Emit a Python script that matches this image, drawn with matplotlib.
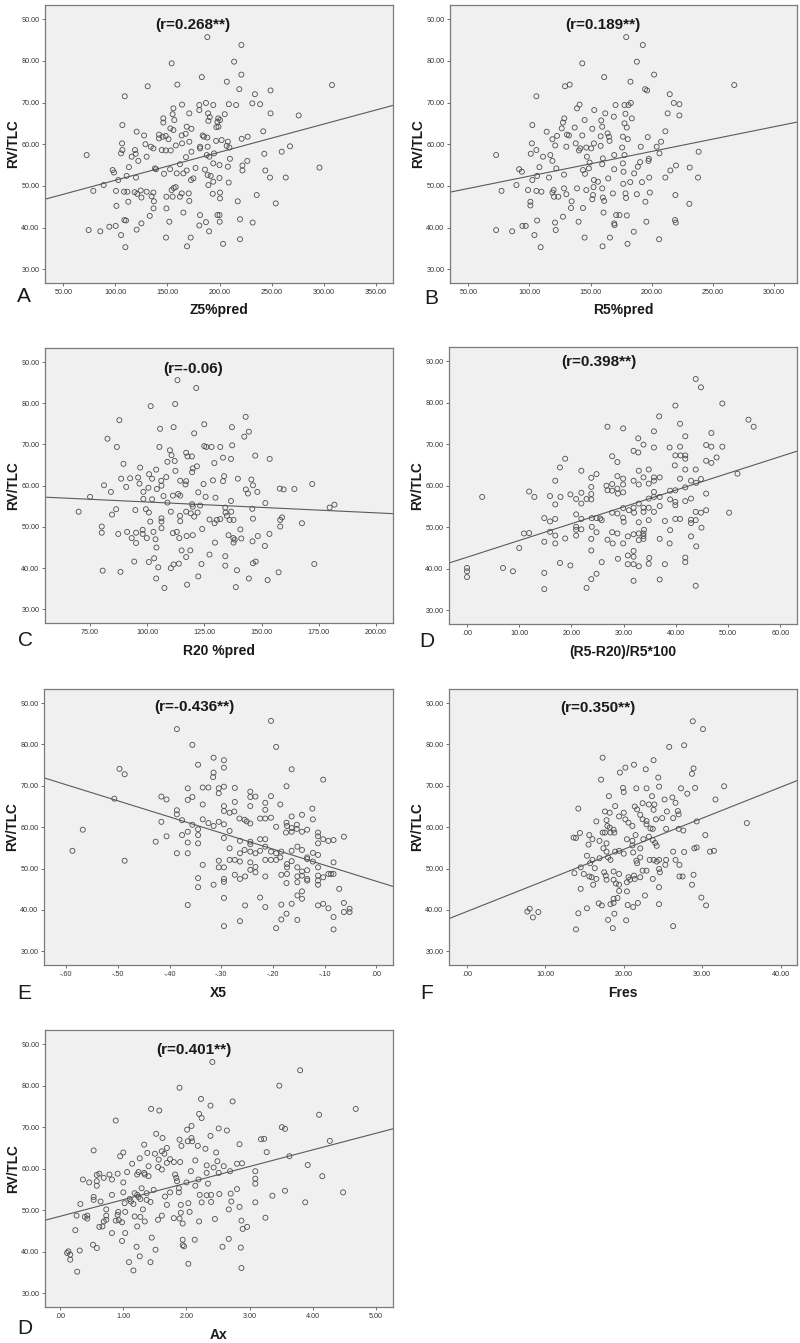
import numpy as np
import matplotlib
matplotlib.use("Agg")
import matplotlib.pyplot as plt
from matplotlib.ticker import FuncFormatter

plt.rcParams['font.family'] = ['Liberation Sans', 'DejaVu Sans']

# RV/TLC against Z5%pred
z5_pts = [
    (188.3, 85.7), (221, 83.8), (154, 79.4), (214, 79.8), (183, 76.1), (221, 76.7), (207, 75),
    (131, 73.9), (159.5, 74.3), (109, 71.5), (219, 73.2), (234, 72), (249, 72.9), (308, 74.2),
    (187, 69.9), (180.6, 69.4), (164, 69.5), (194, 69.4), (209, 69.6), (216, 69.4), (231.5, 69.8),
    (239, 69.6), (180.6, 68.2), (155.7, 68.6), (171, 67.4), (189, 67.4), (205, 67.2), (249, 67.4),
    (276, 66.9), (190.6, 66.5), (155, 67.2), (146, 66.2), (156.6, 65.8), (198.8, 66.2), (200.5, 65.8),
    (189.3, 65.6), (198, 65.4), (146, 65.2), (106.7, 64.6), (168.5, 64.2), (197, 64.1), (199, 64.2),
    (173, 63.7), (152.8, 63.8), (155.7, 63.4), (242, 63.1), (120.4, 63), (127.5, 62.1), (141.9, 62.3),
    (145.4, 61.8), (148.3, 62), (167.5, 62.5), (163.7, 62.1), (141.9, 61.4), (151, 61.2), (183.8, 62.1),
    (185, 61.8), (188.3, 61.6), (196.7, 60.8), (202, 61), (221.3, 61.3), (227, 61.8), (208, 60.6),
    (206.9, 59.6), (164, 60.2), (171, 60.6), (181.3, 59.4), (188.6, 59.4), (134, 59.4), (158, 59.7),
    (128.8, 60), (136.5, 59), (106.4, 60.2), (106.7, 58.6), (118.8, 58.6), (119.5, 57.7), (144.5, 58.6),
    (148.3, 58.5), (153.1, 58.5), (173, 58.2), (181.3, 59), (187.7, 57.4), (194.7, 57.8), (190.2, 57),
    (209.5, 59.2), (210, 56.5), (243, 57.7), (259.7, 58.2), (267.7, 59.5), (72.4, 57.4), (105.4, 57.8),
    (115.6, 57), (130, 57), (122, 56), (162, 55.2), (167.8, 56.9), (194, 55.4), (200, 55), (226.7, 56),
    (222, 54.9), (222, 53.7), (113, 54.5), (138, 54.2), (139, 54), (97.4, 53.8), (98.7, 53.2),
    (186, 53.9), (168.5, 53.7), (165.3, 53), (177, 54.3), (208, 54.6), (244, 53.7), (296, 54.4),
    (110.8, 52.4), (119.8, 52), (102.8, 51.4), (146.7, 52.9), (152.5, 54), (158.9, 53), (174.9, 51.8),
    (172.6, 51.4), (188.6, 52.6), (191.5, 52.4), (194, 51), (200, 51.9), (189.3, 50.2), (208.8, 50.8),
    (248.5, 52), (263.6, 52), (88.7, 50.2), (78.8, 48.8), (100.6, 48.8), (108.3, 48.6), (111.5, 48.6),
    (118.5, 48.5), (121, 48.1), (124.3, 48.9), (130, 48.6), (136.5, 48.4), (163.7, 48.2), (170.4, 48.2),
    (193.5, 48.1), (156, 49.5), (157.9, 49.7), (154, 49), (149, 47.4), (155, 47.4), (162, 47.4),
    (171, 46.4), (134.8, 47.5), (125, 47.2), (137, 46.3), (112.4, 46.2), (101, 45.2), (200.5, 47),
    (200.5, 48.4), (217.5, 46.3), (235.7, 47.8), (254, 45.8), (136.6, 44.6), (149, 44.6), (165.3, 43.6),
    (181.3, 43), (198, 43), (200, 43), (133, 42.8), (108.6, 41.8), (110.2, 41.7), (125, 41),
    (151.8, 41.4), (187, 41.3), (200.2, 41.4), (219.7, 42), (231.8, 41.2), (180.6, 40.5), (74.3, 39.4),
    (85.5, 39.1), (94.2, 40.2), (100.3, 40.4), (120.4, 39.5), (190, 39.1), (105.4, 38.2), (148.6, 37.6),
    (172.3, 37.6), (219.7, 37.2), (109.6, 35.3), (168.8, 35.5), (203.4, 36.1),
]

# RV/TLC against R5%pred
r5_pts = [
    (179.1, 85.7), (192.7, 83.8), (143.2, 79.4), (187.8, 79.8), (161.1, 76.1), (201.9, 76.7),
    (182.6, 75), (129.1, 73.9), (132.9, 74.3), (105.7, 71.5), (194.6, 73.2), (196.2, 72.9),
    (214.7, 72), (267.4, 74.2), (170.4, 69.4), (141, 69.5), (181, 69.4), (182.9, 69.9), (218, 69.9),
    (222.6, 69.6), (177.7, 69.4), (138.9, 68.6), (153, 68.2), (162, 67.4), (178.5, 67.3), (213, 67.4),
    (222.6, 66.9), (183.7, 66.2), (169, 66.6), (128.5, 66.2), (145.1, 65.8), (127.4, 65.2),
    (158.7, 65.7), (177.7, 65), (102.4, 64.6), (137, 64), (151.4, 63.7), (159.5, 64.2), (179.6, 64),
    (126.4, 63.8), (211.1, 63.1), (114.1, 63), (130.7, 62.3), (132.3, 62.1), (122.6, 62), (143.2, 62.1),
    (163.9, 62.6), (165, 61.8), (158.2, 61.9), (176.4, 61.8), (180.4, 61.2), (196.7, 61.7),
    (137.8, 60.2), (118.8, 61.2), (102, 60.2), (121.1, 59.7), (130.2, 59.4), (141.6, 59), (146.5, 59.2),
    (152.7, 60.2), (158.2, 59.6), (165.5, 60.8), (175.8, 59.2), (191, 59.4), (204, 59.4), (207.6, 60.6),
    (105.7, 58.6), (140.5, 58.5), (150.5, 59), (169.3, 57.4), (177.7, 57.4), (206.3, 57.8),
    (238.3, 58.2), (72.8, 57.4), (101.1, 57.7), (111.1, 57), (117.1, 57.4), (118.8, 56), (147, 57),
    (160, 56.6), (197.6, 56.5), (197.3, 56), (159.5, 55.2), (176.4, 55.4), (190.5, 55.7), (188.6, 54.6),
    (219.8, 54.9), (231, 54.4), (108.2, 54.5), (122, 54.2), (91.6, 54), (93.8, 53.4), (143.8, 53.8),
    (148.6, 54.2), (169.3, 54), (176.9, 53.4), (185.6, 53), (215.2, 53.7), (106.3, 52.4), (116, 52),
    (102.4, 51.4), (128.3, 52.7), (145.4, 52.9), (152.7, 51.4), (156, 51), (164.4, 51.8), (176.7, 50.5),
    (182.4, 50.9), (192, 50.9), (197.9, 52), (211.1, 52), (237.8, 52), (89.4, 50.2), (77.2, 48.8),
    (98.9, 49), (105.7, 48.8), (109.8, 48.6), (118.8, 48.4), (119.8, 49), (128.3, 49.4), (138.9, 49.4),
    (152.4, 49.7), (159.5, 49.4), (146.5, 49), (120.1, 47.4), (123.6, 47.4), (130.2, 48), (152, 47.8),
    (160, 47.2), (168.2, 48.2), (178.5, 48.2), (179, 47.1), (187.8, 48), (198.4, 48.4), (219.3, 47.8),
    (134.5, 46.3), (100.8, 46.2), (151.4, 46.8), (161.1, 46.4), (194.8, 46.2), (230.7, 45.7),
    (100.8, 45.3), (134, 44.7), (143.8, 44.7), (160.6, 43.6), (170.9, 43), (173.6, 43), (179.6, 42.9),
    (127.4, 42.6), (106.3, 41.7), (120.9, 41.2), (140.2, 41.4), (169.3, 41), (195.6, 41.4), (219, 41.8),
    (219.6, 41.2), (185.3, 39), (169.6, 40.6), (72.8, 39.4), (85.9, 39.1), (94.3, 40.4), (97, 40.4),
    (121.5, 39.4), (104.1, 38.2), (145.1, 37.6), (165.8, 37.6), (206, 37.2), (109.2, 35.3),
    (159.8, 35.5), (180.2, 36.1), (149.2, 55.6),
]

# RV/TLC against R20 %pred
r20_pts = [
    (113.2, 85.6), (121.4, 83.7), (101.5, 79.3), (112.2, 79.8), (143, 76.7), (87.8, 75.9), (124.9, 74.9),
    (105.6, 73.8), (111.5, 74.2), (137, 74.2), (120.5, 72.7), (142.4, 71.9), (144.4, 73.1), (82.6, 71.4),
    (86.7, 69.4), (105.3, 69.4), (124.9, 69.6), (125.8, 69.4), (128.1, 69.4), (131.9, 69.4), (137.1, 69.8),
    (109.9, 68.6), (110.6, 67.4), (117, 68), (117.6, 67.1), (119.5, 67.1), (133.1, 66.8), (136.6, 66.5),
    (147.2, 67.3), (153.5, 66.5), (112, 66), (108.8, 65.8), (129.3, 65.5), (89.6, 65.3), (121.7, 64.7),
    (96.9, 64.4), (103.9, 63.9), (112.3, 63.6), (119.9, 64.2), (119.6, 63.3), (133.6, 62.3), (100.8, 62.8),
    (88.6, 61.7), (92.5, 61.8), (96, 62), (102.1, 61.7), (108.3, 62.1), (106.1, 61.2), (114.4, 61.2),
    (117, 61.1), (116.7, 60.3), (124.6, 60.4), (128.7, 61.3), (133.1, 61.1), (139.6, 61.7), (145.5, 61.5),
    (146.2, 60.1), (81.1, 60.1), (90.8, 59.7), (96.6, 60.5), (100.5, 59.5), (104.2, 59.2), (106.2, 60),
    (84.1, 58.5), (98.3, 58.5), (122.3, 58.4), (125.5, 57.3), (129.8, 57.1), (143.1, 59.1), (144, 58.1),
    (148.1, 58.5), (157.9, 59.3), (159.6, 59.1), (164.3, 59.2), (172.1, 60.4), (75, 57.3), (98.3, 56.8),
    (102.1, 56.7), (107.1, 57.5), (111.2, 57.6), (114.4, 57.6), (108.8, 55.9), (113.5, 58), (123.1, 55.2),
    (119.9, 54.9), (119.6, 55.5), (136.6, 56.3), (151.6, 55.8), (179.7, 54.7), (181.8, 55.4), (70, 53.7),
    (84.6, 53), (86.4, 54.3), (94.8, 54.1), (99.4, 54.3), (100.7, 53.5), (110.3, 53.7), (114.3, 52.7),
    (117, 53.7), (119, 53.3), (122, 53.5), (120.5, 52.5), (106.2, 52.1), (106.2, 51.3), (114.4, 51.4),
    (127.2, 51.8), (130.4, 51.7), (131.9, 51.9), (134.2, 53.5), (134.8, 52.7), (136.7, 53.7), (136, 51.7),
    (137.7, 51.7), (134.1, 54.7), (146.2, 52), (145.9, 54.4), (158.1, 51.7), (158.9, 52.3), (167.6, 50.9),
    (101.3, 51.3), (80.1, 50.1), (80.1, 48.6), (87.3, 48.3), (91.2, 48.8), (95.1, 48.6), (98, 49.3),
    (98, 48.3), (102.7, 48.8), (106.2, 49.7), (111.2, 48.5), (112.9, 48.8), (117.2, 47.8), (119.9, 48),
    (114, 47.3), (93.2, 47.3), (99.8, 47.3), (95.1, 46.1), (103.6, 47), (124, 49.5), (129.4, 50.9),
    (135.5, 48), (137.6, 47.3), (138.2, 46.9), (141.1, 47.2), (137.7, 46.2), (140.7, 49.4), (129.6, 46.2),
    (148.3, 47.8), (153.4, 48.3), (146, 46.5), (158.1, 50.1), (151.4, 45.4), (104, 45), (115, 44.3),
    (118.8, 44.3), (117, 42.7), (127.2, 43.3), (134.1, 42.9), (94.3, 41.6), (103, 42.4), (100.7, 41.5),
    (113.8, 41.1), (111.5, 40.9), (123.7, 41), (134.1, 40.6), (146.2, 41.2), (147.4, 41.6), (173, 41),
    (80.5, 39.4), (88.3, 39.1), (104.8, 40.2), (110.3, 40), (139.2, 39.5), (157.4, 39), (103.9, 37.5),
    (122.3, 38), (144.4, 37.5), (152.6, 37.1), (107.5, 35.2), (117.4, 36), (138.7, 35.4),
]

# RV/TLC against (R5-R20)/R5*100
frd_pts = [
    (43.8, 85.7), (44.8, 83.7), (39.9, 79.3), (48.9, 79.8), (36.8, 76.7), (53.9, 75.9), (54.9, 74.2),
    (40.8, 74.9), (26.9, 74.2), (29.9, 73.8), (35.8, 73.1), (41.8, 71.9), (46.8, 72.7), (32.8, 71.4),
    (33.8, 69.9), (35.8, 69.2), (38.8, 69.2), (40.8, 69.4), (45.8, 69.8), (46.8, 69.4), (48.9, 69.4),
    (31.9, 68.4), (32.8, 68), (39.9, 67.3), (40.9, 67.3), (41.8, 67.3), (41.8, 66.5), (27.8, 67.1),
    (18.8, 66.5), (47.8, 66.8), (45.8, 66), (46.8, 65.5), (28.8, 65.7), (39.8, 64.9), (17.8, 64.4),
    (34.8, 63.9), (41.8, 63.9), (43.8, 63.9), (32.9, 63.6), (21.9, 63.6), (24.8, 62.8), (28.8, 62.3),
    (33.8, 62), (35.8, 62), (36.9, 62), (40.8, 61.7), (31.9, 61.2), (42.9, 61.2), (44.8, 61.6),
    (51.8, 62.9), (16.9, 61.2), (35.8, 61.2), (29.9, 61.7), (29.9, 60.3), (23.8, 61.9), (23.8, 59.7),
    (26.7, 60), (27.8, 60.4), (28.8, 59.3), (32.9, 60.3), (34.8, 60.5), (41.8, 59.6), (43.9, 60.7),
    (45.8, 58.1), (11.9, 58.6), (12.9, 57.3), (2.9, 57.3), (15.9, 57.5), (17.9, 57.3), (19.8, 57.9),
    (21.9, 58.3), (23.8, 58), (27.8, 58.8), (26.9, 58.9), (28.9, 58.1), (29.9, 58.4), (35.8, 58.5),
    (35.8, 57.3), (38.9, 58.8), (39.9, 58.9), (36.9, 57.3), (34.8, 56.9), (38.9, 56.7), (39.9, 56.1),
    (41.8, 56.3), (42.9, 56.9), (16.9, 55.5), (20.9, 56.8), (21.9, 55.7), (22.9, 56.8), (23.8, 56.7),
    (32.9, 55.7), (31.9, 54.7), (29.9, 54.6), (31, 54.1), (33.8, 54.7), (33.8, 53.7), (34.8, 54.7),
    (35.8, 53.7), (36.9, 55.1), (39.9, 55.3), (43.8, 53.7), (44.8, 53.5), (45.8, 54.1), (50.2, 53.5),
    (20.9, 53.1), (27.8, 53.5), (28.8, 53.3), (32, 53.5), (25.5, 52.1), (14.8, 52.2), (15.9, 51.4),
    (16.9, 52), (21.9, 52), (23.9, 52.2), (24.8, 52.2), (25.8, 51.7), (29.9, 52.3), (30, 51.3),
    (32.9, 51.2), (34.8, 51.7), (37.9, 51.5), (39.9, 52), (40.8, 52), (42.9, 51.8), (42.9, 51),
    (43.8, 51.7), (44.9, 49.9), (20.9, 50.1), (20.9, 49.4), (21.9, 49.5), (23.9, 50.1), (38.9, 49.3),
    (10.9, 48.5), (11.9, 48.6), (15.9, 48.9), (24.8, 48.8), (27.8, 48.8), (28.8, 48.5), (32.9, 48.5),
    (31.9, 48.3), (33.8, 48.5), (33.8, 47.9), (33.9, 49.4), (16.9, 48), (20.9, 48), (30.8, 47.8),
    (42.9, 47.8), (18.8, 47.3), (23.8, 47.2), (26.9, 47), (32.9, 46.9), (33.8, 47.2), (36.9, 47.2),
    (14.8, 46.5), (16.9, 46.1), (27.9, 46.1), (29.9, 46.1), (38.8, 46.1), (10, 45), (43.9, 45.4),
    (23.8, 44.4), (31.9, 44.3), (31.9, 42.9), (30.8, 43.2), (28.9, 42.4), (34.9, 42.6), (41.8, 42.7),
    (41.8, 41.6), (17.8, 41.4), (25.8, 41.6), (30.8, 41.1), (31.9, 41.1), (32.9, 40.6), (34.8, 41.2),
    (37.9, 41.1), (19.8, 40.8), (6.9, 40.2), (8.8, 39.4), (0, 40.2), (0, 39.4), (0, 38), (14.8, 39),
    (24.8, 38.8), (23.8, 37.5), (36.9, 37.4), (31.9, 37.1), (14.8, 35.1), (22.9, 35.4), (43.8, 35.9),
]

# RV/TLC against X5
x5_pts = [
    (-0.204, 85.7), (-0.386, 83.7), (-0.194, 79.4), (-0.356, 79.9), (-0.315, 76.8), (-0.295, 76.2),
    (-0.345, 75.1), (-0.497, 74.1), (-0.487, 72.8), (-0.295, 74.4), (-0.164, 74), (-0.315, 73.2),
    (-0.316, 72.1), (-0.103, 71.5), (-0.365, 69.4), (-0.336, 69.6), (-0.325, 69.6), (-0.305, 69.4),
    (-0.305, 68.2), (-0.295, 69.8), (-0.274, 69.5), (-0.174, 69.9), (-0.244, 68.6), (-0.507, 66.9),
    (-0.416, 67.4), (-0.406, 66.7), (-0.365, 66.6), (-0.356, 67.3), (-0.244, 67.3), (-0.234, 67.4),
    (-0.204, 67.5), (-0.274, 66.1), (-0.215, 65.9), (-0.186, 65.5), (-0.336, 65.5), (-0.244, 65.1),
    (-0.295, 65.1), (-0.124, 64.5), (-0.164, 62.6), (-0.144, 63), (-0.386, 64.1), (-0.386, 63.1),
    (-0.295, 63.9), (-0.284, 63.5), (-0.275, 63.8), (-0.215, 64.2), (-0.225, 62.1), (-0.215, 62.1),
    (-0.204, 62.3), (-0.123, 61.9), (-0.376, 61.7), (-0.416, 61.3), (-0.336, 61.9), (-0.325, 61),
    (-0.315, 60.3), (-0.305, 61.3), (-0.295, 60.7), (-0.265, 62.1), (-0.255, 61.8), (-0.251, 61.4),
    (-0.244, 60.9), (-0.356, 60.6), (-0.174, 61.1), (-0.173, 60.3), (-0.194, 60.1), (-0.164, 59.8),
    (-0.154, 59.6), (-0.154, 60.6), (-0.164, 58.9), (-0.175, 58.7), (-0.144, 58.9), (-0.134, 59.4),
    (-0.113, 58.7), (-0.113, 57.8), (-0.103, 57.1), (-0.093, 56.7), (-0.083, 56.9), (-0.063, 57.7),
    (-0.113, 56.1), (-0.365, 58.9), (-0.345, 58.1), (-0.345, 59.5), (-0.406, 57.8), (-0.376, 58.1),
    (-0.427, 56.5), (-0.365, 56.3), (-0.345, 56.1), (-0.295, 57.4), (-0.284, 59.1), (-0.264, 56.7),
    (-0.244, 56.5), (-0.244, 55.9), (-0.225, 57.1), (-0.215, 57.1), (-0.215, 55.3), (-0.184, 54.1),
    (-0.164, 54.3), (-0.153, 55.3), (-0.144, 54.5), (-0.123, 53.8), (-0.113, 53.3), (-0.386, 53.7),
    (-0.365, 53.7), (-0.284, 54.9), (-0.264, 53.7), (-0.255, 54.5), (-0.244, 54.1), (-0.234, 53.7),
    (-0.225, 54.3), (-0.204, 54.1), (-0.194, 53.7), (-0.194, 52.1), (-0.215, 52.1), (-0.204, 52.1),
    (-0.244, 51.5), (-0.234, 50.4), (-0.284, 52.1), (-0.274, 52.1), (-0.264, 51.7), (-0.305, 51.9),
    (-0.336, 50.9), (-0.305, 50.3), (-0.295, 50.3), (-0.134, 52.7), (-0.134, 52.3), (-0.123, 51.7),
    (-0.113, 50.3), (-0.083, 51.5), (-0.186, 52.7), (-0.164, 51.8), (-0.173, 51.1), (-0.173, 50.3),
    (-0.173, 48.7), (-0.153, 50.3), (-0.144, 49.3), (-0.134, 49.6), (-0.153, 48.1), (-0.144, 48.3),
    (-0.134, 47.5), (-0.113, 48.3), (-0.103, 47.9), (-0.093, 48.7), (-0.088, 48.7), (-0.083, 48.7),
    (-0.134, 47.1), (-0.113, 47.1), (-0.113, 46.1), (-0.184, 48.5), (-0.174, 46.5), (-0.153, 46.7),
    (-0.274, 48.5), (-0.264, 47.5), (-0.254, 48.1), (-0.234, 49.1), (-0.244, 49.7), (-0.215, 48.1),
    (-0.295, 47.5), (-0.295, 46.8), (-0.315, 46.1), (-0.345, 47.7), (-0.345, 45.5), (-0.072, 45.1),
    (-0.153, 43.5), (-0.144, 44.5), (-0.144, 42.7), (-0.225, 43), (-0.295, 42.9), (-0.365, 41.2),
    (-0.254, 41.1), (-0.215, 40.7), (-0.184, 41.3), (-0.164, 41.5), (-0.113, 41.1), (-0.103, 41.5),
    (-0.093, 40.4), (-0.063, 41.7), (-0.063, 39.5), (-0.052, 40.3), (-0.052, 39.5), (-0.083, 38.3),
    (-0.174, 39.1), (-0.184, 37.7), (-0.153, 37.6), (-0.264, 37.3), (-0.295, 36.1), (-0.194, 35.6),
    (-0.083, 35.3), (-0.588, 54.3), (-0.568, 59.4), (-0.487, 51.9),
]

# RV/TLC against Fres
fres_pts = [
    (28.8, 85.6), (30.1, 83.7), (25.8, 79.4), (27.7, 79.8), (17.3, 76.8), (23.8, 76.2), (21.3, 75.1),
    (20.2, 74.4), (19.5, 73.2), (22.8, 74), (28.9, 74.2), (28.7, 72.9), (24.4, 72), (17.1, 71.5),
    (32.8, 69.9), (19.9, 69.5), (21.6, 69.4), (22.9, 69.4), (24.5, 69.8), (27.3, 69.4), (29.1, 69.5),
    (20, 68.5), (28.1, 68.1), (18.1, 67.5), (23.6, 67.5), (25.2, 66.7), (26.2, 67.2), (31.7, 66.7),
    (26.6, 65.9), (22.4, 65.8), (23.2, 65.5), (23.9, 65.5), (21.4, 65), (18.9, 65.1), (14.2, 64.5),
    (21.7, 64.3), (23.8, 64.2), (26.9, 63.9), (27, 63.1), (17.6, 63.8), (18.2, 63.5), (20, 63.5),
    (19.4, 62.6), (22.1, 63), (22.4, 61.9), (22.9, 61.5), (24.1, 61.9), (25.5, 63.8), (24.9, 62.2),
    (26.3, 62.2), (16.5, 61.4), (17.8, 61.7), (20.2, 61.9), (20.6, 61.1), (29.3, 61.4), (35.7, 61),
    (17.9, 60.3), (18.2, 59.9), (18.7, 59.4), (21.1, 60.3), (22.9, 60.7), (23.4, 59.7), (23.7, 59.6),
    (25.4, 59.6), (27, 59.6), (27.6, 59.2), (14.4, 58.6), (15.6, 58.1), (17.3, 58.7), (17.6, 58.7),
    (18.3, 58.7), (18.8, 58.7), (16.9, 56.7), (13.6, 57.5), (13.9, 57.4), (16, 57.1), (17.8, 56.1),
    (21.1, 56.7), (20.4, 57.1), (21.5, 58.1), (22.5, 57.1), (23.2, 57.7), (23.7, 56.9), (24, 56.2),
    (24.2, 55.5), (15.5, 55.8), (17.4, 54.9), (22.1, 54.9), (21.1, 55.6), (19.4, 54.3), (18.9, 54.1),
    (20, 53.6), (21.2, 53.9), (17.8, 54.1), (15.3, 53.1), (16, 52.1), (16.9, 52.5), (18, 52.7),
    (18.3, 52.1), (22.1, 52.7), (23.3, 52.1), (23.8, 52.1), (24.5, 52.1), (24.2, 51.7), (25.4, 52.1),
    (25.3, 50.9), (26.3, 54.1), (27.7, 54), (29, 54.9), (29.3, 55.1), (31, 54.1), (31.5, 54.3),
    (30.4, 58.1), (26.6, 52.1), (27.1, 50.9), (21.6, 51.9), (21.7, 51.3), (15.7, 51.3), (16.3, 50.1),
    (14.5, 50.3), (13.7, 48.9), (14.9, 48.7), (17.5, 49.1), (17.7, 48.3), (18.7, 49.3), (19.4, 48.7),
    (20.6, 47.9), (21.3, 48.3), (21.4, 47.5), (22.4, 49.5), (22.9, 49.5), (22.1, 47.9), (24.5, 49.9),
    (24.6, 49.1), (27.1, 48.1), (27.5, 48.1), (28.9, 48.5), (15.6, 48.1), (15.9, 47.9), (16.5, 47.5),
    (16.1, 46.1), (17.8, 47.3), (18.7, 47.3), (19, 46.4), (19.4, 46.1), (20.4, 46.7), (20.8, 47.3),
    (23.7, 47.5), (28.7, 46.1), (24.5, 45.5), (14.5, 45.1), (19.4, 44.6), (20.4, 44.5), (19.2, 42.9),
    (18.7, 42.7), (22.7, 43.5), (29.9, 43), (16.8, 41.6), (17.2, 41.1), (18.3, 41.4), (18.7, 41.7),
    (20.5, 41.2), (21.2, 40.7), (21.8, 41.7), (24.5, 41.4), (30.5, 41.1), (15.3, 40.4), (7.7, 39.6),
    (8, 40.3), (9.1, 39.5), (8.4, 38.2), (14.2, 39.2), (18.8, 39.1), (18, 37.6), (20.3, 37.5),
    (13.9, 35.3), (18.6, 35.6), (26.3, 36.1),
]

# RV/TLC against Ax
ax_pts = [
    (2.41, 85.7), (3.8, 83.7), (1.89, 79.5), (3.47, 80), (2.23, 76.8), (2.73, 76.2), (2.38, 75.2),
    (1.44, 74.4), (1.57, 74), (4.68, 74.4), (2.2, 73.2), (2.24, 72.2), (4.1, 73), (0.88, 71.6),
    (2.08, 70.3), (2.01, 69.4), (2.51, 69.7), (2.64, 69.2), (3.51, 70), (3.56, 69.6), (1.52, 68.4),
    (2.38, 67.9), (1.62, 67.4), (2.08, 67.4), (3.18, 67.1), (3.23, 67.2), (4.27, 66.7), (1.89, 67),
    (2.02, 66.6), (2.09, 66.6), (1.33, 65.8), (1.92, 65.5), (2.18, 65.5), (2.84, 65.9), (2.3, 64.8),
    (1.69, 65), (1.61, 64.2), (0.53, 64.4), (1, 63.9), (1.38, 63.8), (1.5, 63.6), (1.65, 63.6),
    (2.47, 63.9), (3.27, 64), (3.63, 63), (0.95, 63), (1.26, 62.5), (1.56, 62.2), (1.74, 62.3),
    (2.14, 62), (2.49, 61.8), (1.69, 61.4), (1.8, 61.6), (1.9, 61.6), (1.14, 61.2), (2.8, 61.2),
    (2.88, 61.3), (2.32, 60.8), (2.43, 60.3), (2.59, 60.6), (3.92, 60.9), (3.09, 59.4), (2.07, 59.4),
    (1.55, 60.4), (1.61, 59.8), (1.4, 60.6), (1.33, 59), (1.24, 59.2), (1.22, 58.6), (1.06, 59.2),
    (0.91, 58.8), (0.62, 58.8), (0.58, 58.5), (0.78, 58.6), (1.34, 58.6), (1.4, 58.2), (1.82, 58.6),
    (2.51, 59), (2.69, 59.4), (4.15, 58.2), (2.32, 59), (1.84, 57.8), (1.85, 57), (0.36, 57.4),
    (0.69, 57.8), (0.82, 57.4), (0.58, 57), (0.46, 56.7), (1, 56.7), (0.58, 55.9), (2, 56.7),
    (2.14, 55.9), (2.34, 56.4), (3.09, 57.6), (3.09, 56.4), (2.19, 57.4), (2.8, 55.1), (3.56, 54.7),
    (4.48, 54.3), (1.48, 54.9), (1.18, 54.1), (1, 54.3), (0.82, 53.7), (1.37, 54.1), (1.29, 55.3),
    (1.88, 55.3), (1.88, 54.3), (1.74, 54.3), (1.66, 53.3), (1.22, 53.7), (1.24, 53.2), (1.27, 52.7),
    (1.1, 52.7), (1.12, 52.1), (1.16, 51.5), (1.02, 51.7), (1.37, 52.5), (1.43, 52), (0.64, 52.1),
    (0.53, 53.2), (0.53, 52.5), (0.32, 51.5), (2.21, 53.7), (2.32, 53.6), (2.39, 53.7), (2.52, 53.9),
    (2.7, 54), (3.36, 53.5), (2.24, 51.9), (2.39, 52), (2.71, 52.1), (3.09, 51.9), (3.88, 51.9),
    (1.69, 51.3), (1.91, 51.3), (2.03, 51.7), (1.31, 50.2), (0.73, 50.2), (2.67, 50.2), (1.91, 49.4),
    (2.05, 49.6), (2.84, 50.8), (0.26, 48.7), (0.43, 48.7), (0.73, 48.7), (0.91, 48.9), (1.03, 49.6),
    (0.92, 49.6), (1.18, 48.5), (1.27, 48.4), (0.73, 47.7), (0.39, 48.4), (0.43, 48), (0.69, 47.3),
    (0.88, 47.5), (0.93, 47.6), (0.98, 47.1), (1.34, 47.3), (1.55, 47.7), (1.61, 48.7), (1.8, 48.1),
    (1.89, 48), (2.2, 47.3), (2.45, 47.9), (2.87, 47.5), (3.25, 48.2), (1.94, 46.8), (0.62, 46),
    (0.67, 46.1), (1.22, 46.1), (2.89, 45.5), (2.96, 46), (0.24, 45.2), (0.82, 44.5), (1.03, 44.5),
    (0.98, 42.6), (1.45, 43.4), (1.94, 42.9), (2.13, 42.9), (2.67, 43.1), (1.94, 41.6), (1.96, 41.3),
    (2.57, 41.2), (2.86, 41), (0.52, 41.7), (0.58, 40.9), (1.21, 41.2), (1.51, 40.5), (0.11, 39.7),
    (0.13, 40.1), (0.16, 39.3), (0.16, 38.1), (0.31, 40.3), (1.26, 38.9), (1.43, 37.5), (1.09, 37.5),
    (2.03, 37.1), (0.27, 35.2), (1.16, 35.5), (2.87, 36.1),
]

panels = [
    # points, r text, x label, letter, xlim, xticks
    (z5_pts, "(r=0.268**)", "Z5%pred", "A", (32.4, 366.6), np.arange(50, 351, 50)),
    (r5_pts, "(r=0.189**)", "R5%pred", "B", (35.1, 318.7), np.arange(50, 301, 50)),
    (r20_pts, "(r=-0.06)", "R20 %pred", "C", (55.3, 207.4), np.arange(75, 201, 25)),
    (frd_pts, "(r=0.398**)", "(R5-R20)/R5*100", "D", (-3.45, 63.2), np.arange(0, 61, 10)),
    (x5_pts, "(r=-0.436**)", "X5", "E", (-0.643, 0.032), np.round(np.arange(-0.6, 0.01, 0.1), 2)),
    (fres_pts, "(r=0.350**)", "Fres", "F", (-2.3, 42.1), np.arange(0, 41, 10)),
    (ax_pts, "(r=0.401**)", "Ax", "D", (-0.24, 5.27), np.arange(0, 6, 1)),
]

# axes boxes in pixels: left, top, right, bottom
boxes = [
    (45, 5, 393, 283), (450, 5, 797, 283),
    (45, 348, 393, 623), (449, 347, 797, 624),
    (44, 689, 393, 965), (449, 689, 797, 965),
    (45, 1030, 393, 1307),
]
title_pos = [(0.425, 0.928), (0.44, 0.928), (0.427, 0.924), (0.431, 0.947),
             (0.43, 0.936), (0.428, 0.932), (0.428, 0.928)]
letter_pos = [(-0.06, -0.047), (-0.053, -0.054), (-0.057, -0.065), (-0.063, -0.063),
              (-0.057, -0.105), (-0.063, -0.105), (-0.057, -0.079)]
xlab_y = [-0.097, -0.097, -0.103, -0.1, -0.101, -0.1, -0.102]


def spss_fmt(v, pos):
    s = "%.2f" % v
    if s.startswith("0."):
        s = s[1:]
    elif s.startswith("-0."):
        s = "-" + s[2:]
    if s == "-.00":
        s = ".00"
    return s


W, H = 800, 1343
fig = plt.figure(figsize=(W / 100, H / 100), dpi=100)

for i, (pts, rtxt, xlab, letter, xlim, xticks) in enumerate(panels):
    l, t, r, b = boxes[i]
    ax = fig.add_axes([l / W, 1 - b / H, (r - l) / W, (b - t) / H])
    ax.set_facecolor("#f0f0f0")
    xs, ys = np.array(pts).T

    ax.scatter(xs, ys, s=13, facecolors="none", edgecolors="#4d4d4d", linewidths=0.6, zorder=3)

    # linear fit line across the whole axes
    slope, icpt = np.polyfit(xs, ys, 1)
    ax.axline((0, icpt), slope=slope, color="#5a5a5a", lw=0.8, zorder=2)

    ax.set_xlim(*xlim)
    ax.set_ylim(26.7, 93.4)
    ax.set_xticks(xticks)
    ax.set_yticks(np.arange(30, 91, 10))
    ax.xaxis.set_major_formatter(FuncFormatter(spss_fmt))
    ax.yaxis.set_major_formatter(FuncFormatter(spss_fmt))
    ax.tick_params(labelsize=5.2, labelcolor="#333333", length=2.5, width=0.6,
                   color="#555555", pad=1.5)
    for sp in ax.spines.values():
        sp.set_color("#7a7a7a")
        sp.set_linewidth(0.9)

    ax.text(*title_pos[i], rtxt, transform=ax.transAxes, ha="center", va="center",
            fontsize=11, fontweight="bold", color="#1a1a1a")
    ax.set_ylabel("RV/TLC", fontsize=9.8, fontweight="bold", color="#1a1a1a")
    ax.yaxis.set_label_coords(-0.092, 0.5)
    ax.set_xlabel(xlab, fontsize=10, fontweight="bold", color="#1a1a1a")
    ax.xaxis.set_label_coords(0.5, xlab_y[i])
    ax.xaxis.label.set_va("center")
    ax.yaxis.label.set_va("center")
    ax.text(*letter_pos[i], letter, transform=ax.transAxes, ha="center", va="center",
            fontsize=15, color="#1a1a1a")

fig.savefig("out.png", dpi=100, facecolor="white")
